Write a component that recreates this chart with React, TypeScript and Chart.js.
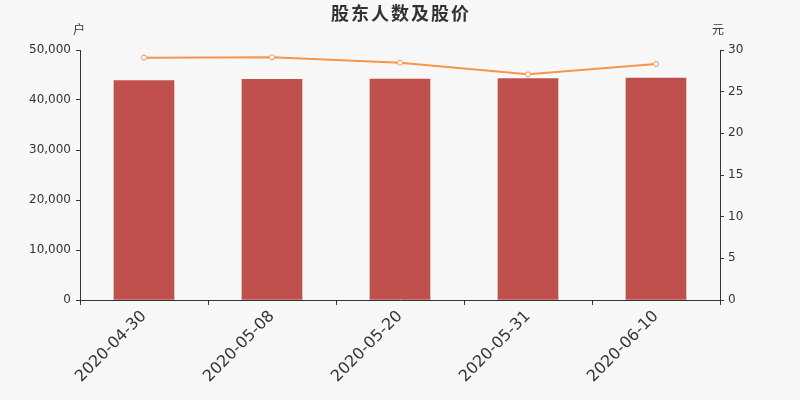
import { useEffect, useRef } from 'react';
import { Chart, registerables } from 'chart.js';

Chart.register(...registerables);

const dates = ['2020-04-30', '2020-05-08', '2020-05-20', '2020-05-31', '2020-06-10'];
const holders = [43900, 44150, 44200, 44300, 44380];
const prices = [29.08, 29.12, 28.48, 27.08, 28.32];

const FONT = '"DejaVu Sans", "Noto Sans CJK SC", sans-serif';

const titlePlugin = {
  id: 'titleUnits',
  afterDraw(chart: Chart) {
    const { ctx, chartArea } = chart;
    ctx.save();
    ctx.fillStyle = '#333';
    ctx.textAlign = 'center';
    ctx.textBaseline = 'middle';
    ctx.font = `bold 18px ${FONT}`;
    (ctx as any).letterSpacing = '2px';
    ctx.fillText('股东人数及股价', 401, 15);
    (ctx as any).letterSpacing = '0px';
    ctx.font = `12px ${FONT}`;
    ctx.fillText('户', chartArea.left - 1, 31);
    ctx.fillText('元', chartArea.right - 2, 31);
    ctx.restore();
  },
};

const App = () => {
  const canvasRef = useRef<HTMLCanvasElement | null>(null);
  const chartInstance = useRef<Chart | null>(null);

  useEffect(() => {
    document.body.style.margin = '0';
    if (!canvasRef.current) return;
    const ctx = canvasRef.current.getContext('2d');
    if (!ctx) return;

    if (chartInstance.current) chartInstance.current.destroy();

    chartInstance.current = new Chart(ctx, {
      type: 'bar',
      data: {
        labels: dates,
        datasets: [
          {
            type: 'line',
            label: '股价',
            data: prices,
            yAxisID: 'y1',
            borderColor: '#f7954a',
            borderWidth: 2,
            pointRadius: 2.5,
            pointBorderWidth: 1,
            pointBackgroundColor: '#ffffff',
            pointBorderColor: '#f7954a',
            tension: 0,
            order: 0,
          },
          {
            type: 'bar',
            label: '股东人数',
            data: holders,
            yAxisID: 'y',
            backgroundColor: '#c0504d',
            barThickness: 60,
            order: 1,
          },
        ],
      },
      options: {
        responsive: false,
        animation: false,
        layout: { padding: { top: 50, left: 0, right: 0, bottom: 0 } },
        plugins: {
          legend: { display: false },
          tooltip: { enabled: false },
          title: { display: false },
        },
        scales: {
          x: {
            offset: true,
            grid: {
              offset: true,
              drawOnChartArea: false,
              drawTicks: true,
              tickLength: 5,
              color: '#333',
            },
            border: { color: '#333' },
            ticks: {
              minRotation: 45,
              maxRotation: 45,
              padding: 2,
              color: '#333',
              font: { family: FONT, size: 16 },
            },
            afterFit: (scale: any) => {
              scale.height = 100;
            },
          },
          y: {
            position: 'left',
            min: 0,
            max: 50000,
            grid: { drawOnChartArea: false, tickLength: 4, color: '#333' },
            border: { color: '#333' },
            ticks: {
              stepSize: 10000,
              padding: 5,
              color: '#333',
              font: { family: FONT, size: 12 },
              callback: (v: any) => Number(v).toLocaleString('en-US'),
            },
            afterFit: (scale: any) => {
              scale.width = 80;
            },
          },
          y1: {
            position: 'right',
            min: 0,
            max: 30,
            grid: { drawOnChartArea: false, tickLength: 4, color: '#333' },
            border: { color: '#333' },
            ticks: {
              stepSize: 5,
              padding: 4,
              color: '#333',
              font: { family: FONT, size: 12 },
            },
            afterFit: (scale: any) => {
              scale.width = 80;
            },
          },
        },
      },
      plugins: [titlePlugin],
    });

    return () => {
      if (chartInstance.current) {
        chartInstance.current.destroy();
        chartInstance.current = null;
      }
    };
  }, []);

  return (
    <div style={{ width: 800, height: 400, background: '#f8f8f8' }}>
      <canvas ref={canvasRef} width={800} height={400} />
    </div>
  );
};

export default App;
